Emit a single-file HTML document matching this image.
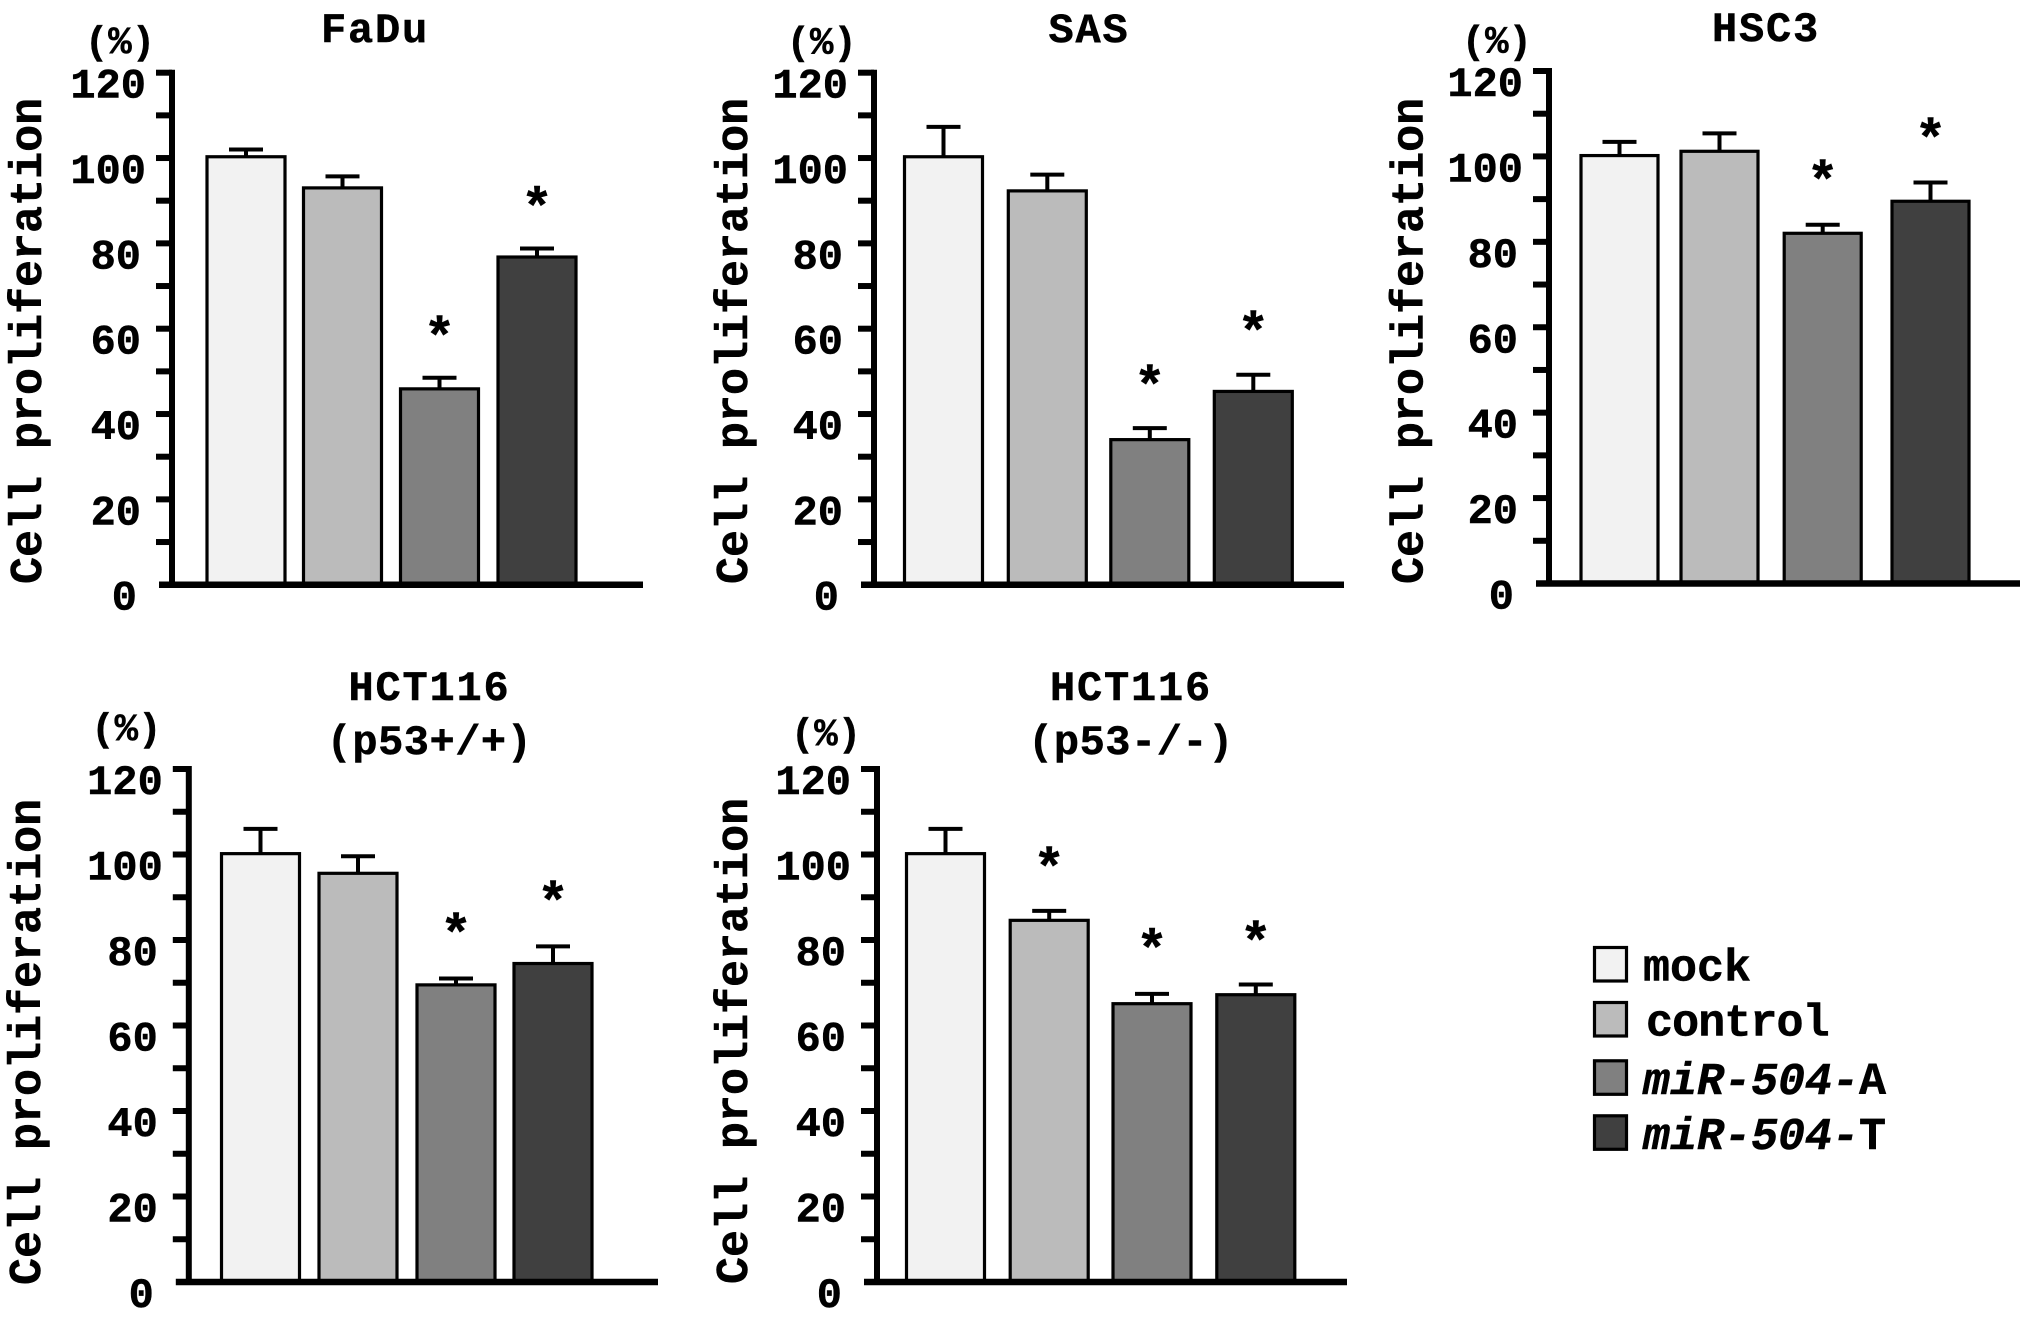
<!DOCTYPE html>
<html lang="en">
<head>
<meta charset="utf-8">
<title>Cell proliferation</title>
<style>
html,body{margin:0;padding:0;background:#fff;width:2031px;height:1322px;overflow:hidden}
svg{display:block}
text{font-family:"Liberation Mono","DejaVu Sans Mono",monospace;font-weight:700;fill:#000;stroke:#000;stroke-width:.5px}
</style>
</head>
<body>
<svg id="figure" xmlns="http://www.w3.org/2000/svg" width="2031" height="1322" viewBox="0 0 2031 1322"></svg>
<script>
const categories = ['mock', 'control', 'miR-504-A', 'miR-504-T'];
const categoryFills = ['#f2f2f2', '#bbbbbb', '#808080', '#404040'];
const yTickValues = [0, 10, 20, 30, 40, 50, 60, 70, 80, 90, 100, 110, 120];
const yTickLabels = ['0', '', '20', '', '40', '', '60', '', '80', '', '100', '', '120'];

const faduValues = [100.3, 93, 45.9, 76.8];
const faduErrors = [1.7, 2.7, 2.6, 2.0];
const faduStars = [null, null, 59.7, 90];

const sasValues = [100.3, 92.3, 34, 45.3];
const sasErrors = [7, 3.8, 2.7, 3.9];
const sasStars = [null, null, 48.2, 60.9];

const hsc3Values = [100.2, 101.2, 82, 89.5];
const hsc3Errors = [3.2, 4.2, 2, 4.4];
const hsc3Stars = [null, null, 95.9, 105.7];

const hctWtValues = [100.2, 95.6, 69.5, 74.5];
const hctWtErrors = [5.8, 4, 1.5, 4];
const hctWtStars = [null, null, 83, 90.5];

const hctNullValues = [100.2, 84.6, 65.1, 67.2];
const hctNullErrors = [5.8, 2.2, 2.3, 2.4];
const hctNullStars = [null, 98.5, 79.4, 81.2];

const panels = [
  {id:'fadu', title:['FaDu'], values:faduValues, errors:faduErrors, stars:faduStars,
   layout:{axisX:172, top:72.7, base:584.7, xEnd:643, barX:[207,303.5,400.5,498], barW:78, titleX:375, titleY:[42], pctX:120, pctY:53.5, ylabX:41, ylabY:584}},
  {id:'sas', title:['SAS'], values:sasValues, errors:sasErrors, stars:sasStars,
   layout:{axisX:874, top:72.7, base:584.7, xEnd:1344, barX:[904.5,1008.3,1110.8,1214.3], barW:78, titleX:1089, titleY:[42], pctX:821.7, pctY:54, ylabX:747, ylabY:584}},
  {id:'hsc3', title:['HSC3'], values:hsc3Values, errors:hsc3Errors, stars:hsc3Stars,
   layout:{axisX:1549, top:71, base:583.5, xEnd:2020, barX:[1581,1681,1784.2,1892], barW:77, titleX:1766, titleY:[41], pctX:1496.8, pctY:53, ylabX:1422.5, ylabY:584}},
  {id:'hct116-wt', title:['HCT116','(p53+/+)'], values:hctWtValues, errors:hctWtErrors, stars:hctWtStars,
   layout:{axisX:188.8, top:769, base:1282, xEnd:658, barX:[221.5,319,417,514], barW:78, titleX:429.5, titleY:[700,754], pctX:126.4, pctY:740.5, ylabX:40, ylabY:1285}},
  {id:'hct116-null', title:['HCT116','(p53-/-)'], values:hctNullValues, errors:hctNullErrors, stars:hctNullStars,
   layout:{axisX:877, top:769, base:1282, xEnd:1347, barX:[906.5,1010.2,1113,1216.8], barW:78, titleX:1131, titleY:[700,754], pctX:826, pctY:745.5, ylabX:747, ylabY:1284}}
];

const NS = 'http://www.w3.org/2000/svg';
const figure = document.getElementById('figure');

function make(parent, tag, attrs, content) {
  const node = document.createElementNS(NS, tag);
  for (const key in attrs) node.setAttribute(key, attrs[key]);
  if (content !== undefined) node.textContent = content;
  parent.appendChild(node);
  return node;
}

function yScale(layout, value) {
  return layout.base - (value / 120) * (layout.base - layout.top);
}

function labelRight(layout, value) {
  if (value >= 100) return layout.axisX - 26;
  if (value > 0) return layout.axisX - 31;
  return layout.axisX - 35;
}

panels.forEach(function (panel) {
  const L = panel.layout;
  const group = make(figure, 'g', {});
  
  

  panel.title.forEach(function (line, i) {
    const t = make(group, 'text', {x:L.titleX, y:L.titleY[i], 'text-anchor':'middle', 'font-size':42, 'letter-spacing': i === 1 ? '0.5' : '1.8'}, line);
    
    
  });

  const pct = make(group, 'text', {x:L.pctX, y:L.pctY, 'text-anchor':'middle', 'font-size':39}, '(%)');
  
  

  const ylab = make(group, 'text', {transform:'translate(' + L.ylabX + ' ' + L.ylabY + ') rotate(-90)', 'font-size':45}, 'Cell proliferation');
  
  

  panel.values.forEach(function (value, i) {
    const x = L.barX[i];
    const yTop = yScale(L, value);
    const cx = x + L.barW / 2;
    const capY = yScale(L, value + panel.errors[i]);

    const stem = make(group, 'line', {x1:cx, x2:cx, y1:yTop, y2:capY, stroke:'#000', 'stroke-width':4});
    
    

    const cap = make(group, 'line', {x1:cx - 17, x2:cx + 17, y1:capY, y2:capY, stroke:'#000', 'stroke-width':4});
    
    

    const bar = make(group, 'rect', {x:x, y:yTop, width:L.barW, height:L.base - yTop, fill:categoryFills[i], stroke:'#000', 'stroke-width':3.2});
    
    

    if (panel.stars[i] !== null) {
      const star = make(group, 'text', {x:cx, y:yScale(L, panel.stars[i]) + 24, 'text-anchor':'middle', 'font-size':53}, '*');
      
      
    }
  });

  const yAxis = make(group, 'line', {x1:L.axisX, x2:L.axisX, y1:L.top - 3, y2:L.base, stroke:'#000', 'stroke-width':6});
  
  

  const xAxis = make(group, 'line', {x1:L.axisX - 13, x2:L.xEnd, y1:L.base, y2:L.base, stroke:'#000', 'stroke-width':6.5});
  
  

  yTickValues.forEach(function (value, i) {
    const y = yScale(L, value);
    if (value > 0) {
      const tick = make(group, 'line', {x1:L.axisX - 16, x2:L.axisX, y1:y, y2:y, stroke:'#000', 'stroke-width':6});
      
      
    }
    if (yTickLabels[i]) {
      const label = make(group, 'text', {x:labelRight(L, value), y:y + 25, 'text-anchor':'end', 'font-size':42}, yTickLabels[i]);
      
      
    }
  });
});

const legendRowsY = [946, 1001, 1059.3, 1114.3];
const legend = make(figure, 'g', {});



categories.forEach(function (name, i) {
  const y = legendRowsY[i];
  const entry = make(legend, 'g', {});
  
  

  const swatch = make(entry, 'rect', {x:1594.5, y:y + 1.5, width:32, height:33.5, fill:categoryFills[i], stroke:'#000', 'stroke-width':3.2});
  
  

  const label = make(entry, 'text', {x: i === 1 ? 1646 : 1643, y: y + 34.5, 'font-size':45, 'letter-spacing': i === 1 ? '-0.9' : '0'});
  
  
  if (i < 2) {
    label.textContent = name;
  } else {
    const italicPart = make(label, 'tspan', {'font-style':'italic'}, 'miR-504-');
    
    
    const suffix = make(label, 'tspan', {}, name.slice(-1));
    
    
  }
});
</script>
</body>
</html>
